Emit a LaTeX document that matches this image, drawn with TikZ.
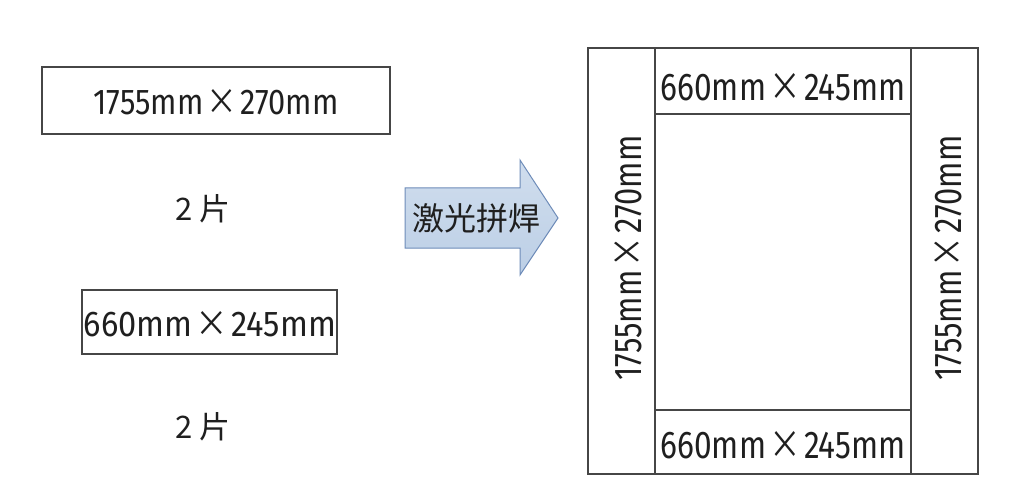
\documentclass[tikz,border=0pt]{standalone}
\usepackage{fontspec}
\usepackage{graphicx}
\setmainfont{Noto Sans CJK SC}
\newfontfamily\numfont{Fira Sans}
\usetikzlibrary{shapes.arrows}
\definecolor{boxline}{RGB}{70,70,70}
\definecolor{arrowfill}{RGB}{188,207,230}
\definecolor{arrowline}{RGB}{110,140,185}
\tikzset{
  plate/.style={draw=boxline, line width=1.1pt},
  lbl/.style={inner sep=0pt, text=black!88},
}
\newcommand{\dimlbl}[4]{\resizebox{#1}{#2}{{\numfont #3}\kern1pt×\kern1pt{\numfont #4}}}
\begin{document}
\begin{tikzpicture}[x=1pt,y=-1pt]
\useasboundingbox[fill=white] (0,0) rectangle (1026,484);
% left pieces
\draw[plate] (42,67) rectangle (390,134);
\node[lbl] (t1) at (216,102) {\dimlbl{245pt}{25pt}{1755mm}{270mm}};
\node[lbl, font=\fontsize{31}{33}\selectfont] (n1) at (203,209) {2 片};
\draw[plate] (82,290) rectangle (337,354);
\node[lbl] (t2) at (210,324) {\dimlbl{252pt}{25pt}{660mm}{245mm}};
\node[lbl, font=\fontsize{31}{33}\selectfont] (n2) at (203,427) {2 片};
% arrow
\draw[draw=arrowline, line width=1pt, top color=arrowfill!70!white, bottom color=arrowfill]
  (405,188) -- (520,188) -- (520,160) -- (558,218) -- (520,275) -- (520,248) -- (405,248) -- cycle;
\node[lbl, font=\fontsize{32}{34}\selectfont] (lw) at (476,218) {激光拼焊};
% assembled frame
\draw[plate] (588,48) rectangle (978,474);
\draw[plate] (655,48) -- (655,474);
\draw[plate] (911,48) -- (911,474);
\draw[plate] (655,114) -- (911,114);
\draw[plate] (655,410) -- (911,410);
\node[lbl] (t3) at (783,87) {\dimlbl{245pt}{27pt}{660mm}{245mm}};
\node[lbl] (t4) at (783,445) {\dimlbl{245pt}{27pt}{660mm}{245mm}};
\node[lbl, rotate=90] (t5) at (628,258) {\dimlbl{245pt}{27pt}{1755mm}{270mm}};
\node[lbl, rotate=90] (t6) at (948,258) {\dimlbl{245pt}{27pt}{1755mm}{270mm}};
\end{tikzpicture}
\end{document}
